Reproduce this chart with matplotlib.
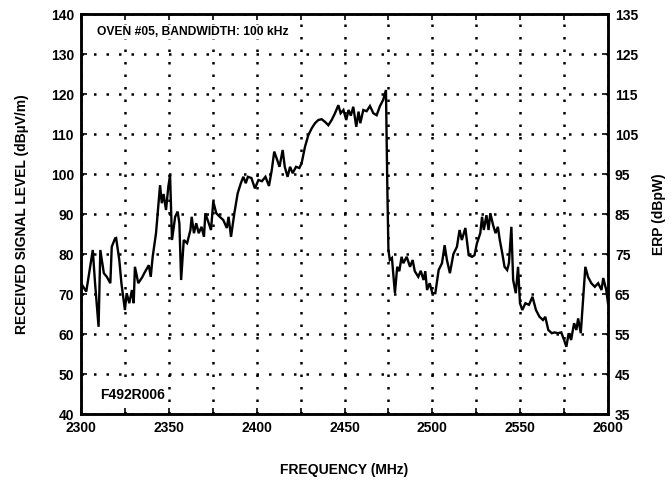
import matplotlib
matplotlib.use("Agg")
import matplotlib.pyplot as plt
from matplotlib.ticker import MultipleLocator
from matplotlib import font_manager

# ---- data ----
freq_mhz = [
    2300, 2303, 2306.7, 2308, 2310, 2311, 2313, 2314.7, 2316.7, 2317.5, 2319.4, 2320, 2321.8,
    2323, 2325, 2326, 2327.5, 2329, 2330, 2330.7, 2332.6, 2335, 2336, 2338.6, 2339.7, 2340.8,
    2342.7, 2345, 2346, 2347, 2348.4, 2349.7, 2350.7, 2351.8, 2353.6, 2355, 2356, 2357,
    2358.5, 2360.4, 2362.3, 2363, 2364.3, 2365.6, 2367, 2368.6, 2370, 2370.8, 2372.7, 2374,
    2375.3, 2377, 2379, 2381, 2383, 2384, 2385.4, 2387.3, 2389.2, 2391, 2392.4, 2393.8, 2395,
    2397, 2399, 2401, 2403, 2405, 2407, 2408.6, 2410, 2411.7, 2413, 2414.8, 2416, 2417.6,
    2419, 2420.5, 2422.4, 2424.3, 2425.6, 2427.5, 2429.4, 2431.3, 2433.2, 2435.1, 2437, 2439,
    2440.8, 2442.7, 2444.6, 2446.5, 2447.8, 2449.4, 2451, 2452.3, 2453.6, 2455, 2456.7, 2458,
    2459, 2460.7, 2462.6, 2464.5, 2466.4, 2468.3, 2470.2, 2472, 2473.6, 2474.4, 2475, 2475.8,
    2477, 2478.7, 2480, 2481.2, 2482.5, 2483.5, 2485.4, 2487.3, 2488.8, 2490, 2492, 2493.4,
    2495, 2496, 2497, 2498.5, 2500, 2501.7, 2503.6, 2505.5, 2507, 2508.3, 2510, 2512, 2514,
    2515.5, 2516.8, 2518.8, 2520.7, 2522.6, 2524, 2525.4, 2527.3, 2528.3, 2529.3, 2530.8,
    2532, 2533, 2534.6, 2536, 2537.3, 2538.4, 2539.8, 2541.1, 2542.6, 2543.6, 2545, 2546,
    2547.5, 2548.8, 2549.9, 2551.2, 2553, 2555, 2557, 2559, 2561, 2563, 2564.3, 2566, 2568,
    2569.6, 2571.5, 2573.4, 2575, 2576.3, 2577.6, 2579, 2580.7, 2582, 2583, 2584.5, 2585.8,
    2587.1, 2588.6, 2590.5, 2592.5, 2594.4, 2596.3, 2597.3, 2599, 2600,
]
level_dbuvm = [
    72.7, 70.6, 81.0, 72.7, 61.8, 81.0, 75.2, 74.3, 72.7, 81.8, 83.9, 84.0, 78.5,
    72.7, 66.0, 70.2, 67.7, 71.0, 67.7, 76.8, 72.7, 74.3, 75.2, 77.2, 74.3, 79.3,
    85.2, 97.2, 92.7, 95.0, 91.0, 96.8, 99.7, 83.5, 89.3, 90.6, 87.7, 73.5,
    83.5, 82.7, 86.0, 89.3, 85.2, 87.7, 85.2, 86.8, 84.3, 90.2, 87.7, 86.0,
    93.1, 90.2, 89.3, 88.5, 86.5, 89.3, 84.3, 90.2, 95.2, 97.7, 99.3, 97.7, 99.3,
    99.0, 96.4, 98.5, 98.2, 99.3, 97.0, 101.0, 105.6, 103.5, 101.8, 106.0, 101.8, 99.3,
    101.8, 100.2, 101.8, 101.5, 102.7, 106.8, 109.7, 111.4, 112.7, 113.5, 113.7, 113.0,
    112.2, 113.5, 115.2, 117.2, 115.2, 116.0, 113.5, 116.0, 114.6, 116.8, 111.8, 115.6,
    112.7, 116.0, 115.7, 117.0, 115.2, 114.7, 117.0, 118.5, 121.0, 96.0, 81.0, 78.5,
    79.0, 70.2, 76.8, 75.7, 79.3, 77.7, 79.3, 76.8, 78.5, 75.7, 74.3, 75.8,
    73.5, 75.7, 71.0, 72.7, 70.2, 70.2, 76.0, 77.7, 82.2, 78.5, 75.2, 80.0, 81.8,
    86.0, 83.5, 86.5, 79.7, 79.3, 79.7, 82.7, 85.2, 89.3, 86.0, 89.7,
    86.0, 90.2, 87.2, 85.2, 86.8, 83.5, 80.2, 76.8, 76.0, 77.7, 86.8, 73.5,
    70.2, 76.8, 67.7, 66.0, 67.7, 67.3, 69.3, 66.0, 64.3, 63.5, 64.3, 61.0, 60.2,
    60.4, 60.2, 60.4, 58.5, 56.8, 60.2, 58.5, 62.7, 61.0, 63.9, 60.2, 68.5,
    76.8, 74.3, 72.7, 71.8, 72.7, 71.0, 74.0, 71.0, 67.7,
]

left_ticks = list(range(40, 141, 10))
right_ticks = list(range(35, 136, 10))
x_ticks = list(range(2300, 2601, 50))

title_text = "OVEN #05, BANDWIDTH: 100 kHz"
code_text = "F492R006"

# ---- fonts ----
avail = {f.name for f in font_manager.fontManager.ttflist}
fams = [f for f in ["Liberation Sans Narrow", "Liberation Sans", "DejaVu Sans"] if f in avail]
plt.rcParams["font.family"] = fams
plt.rcParams["font.weight"] = "bold"
plt.rcParams["font.size"] = 10

fig = plt.figure(figsize=(6.71, 4.80), dpi=100)
ax = fig.add_axes([81 / 671, 1 - 414 / 480, (608 - 81) / 671, (414 - 14) / 480])

ax.plot(freq_mhz, level_dbuvm, color="black", lw=1.7, solid_joinstyle="miter")

ax.set_xlim(2300, 2600)
ax.set_ylim(40, 140)
ax.set_xticks(x_ticks)
ax.xaxis.set_minor_locator(MultipleLocator(25))
ax.set_yticks(left_ticks)

grid_kw = dict(color="black", linestyle=(0, (1.0, 4.0)), linewidth=1.8)
ax.grid(True, which="major", axis="both", **grid_kw)
ax.grid(True, which="minor", axis="x", **grid_kw)

for s in ax.spines.values():
    s.set_linewidth(1.8)

ax.tick_params(which="both", direction="in", top=True, bottom=True, left=True,
               right=False, length=4, width=1.2, labelsize=10, pad=5)
for lab in ax.get_xticklabels() + ax.get_yticklabels():
    lab.set_fontweight("bold")

ax2 = ax.twinx()
ax2.set_ylim(35, 135)
ax2.set_yticks(right_ticks)
ax2.tick_params(direction="in", length=4, width=1.2, labelsize=10, pad=5)
for lab in ax2.get_yticklabels():
    lab.set_fontweight("bold")
for s in ax2.spines.values():
    s.set_linewidth(1.8)

ax.set_xlabel("FREQUENCY (MHz)", fontsize=10, fontweight="bold", labelpad=20)
ax.set_ylabel("RECEIVED SIGNAL LEVEL (dB\u00b5V/m)", fontsize=10, fontweight="bold", labelpad=16)
ax2.set_ylabel("ERP (dBpW)", fontsize=10, fontweight="bold", labelpad=10)

ax.text(2309, 135.5, title_text, fontsize=8.7, fontweight="bold", va="center", ha="left",
        bbox=dict(facecolor="white", edgecolor="none", pad=1))
ax.text(2311, 44.8, code_text, fontsize=10, fontweight="bold", va="center", ha="left",
        bbox=dict(facecolor="white", edgecolor="none", pad=1))

fig.savefig("out.png", dpi=100, facecolor="white")
